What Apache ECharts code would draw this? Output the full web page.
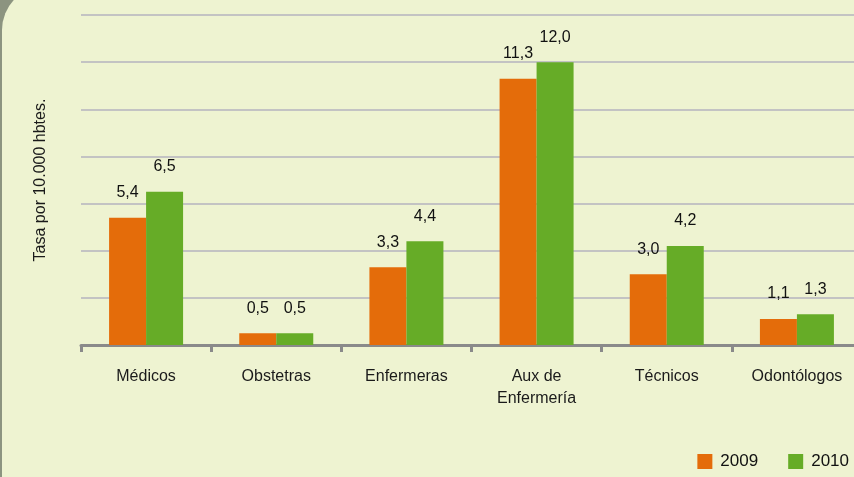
<!DOCTYPE html>
<html>
<head>
<meta charset="utf-8">
<script src="https://cdn.jsdelivr.net/npm/echarts@6/dist/echarts.min.js"></script>
<style>
  html, body { margin: 0; padding: 0; background: #8c9480; overflow: hidden; width: 854px; height: 477px; }
  #panel {
    position: absolute; left: 2px; top: -14px; width: 900px; height: 520px;
    background: #eef3d1; border-top-left-radius: 44px;
  }
  #chart { position: absolute; left: 0; top: 0; width: 880px; height: 477px; }
</style>
</head>
<body>
<div id="panel"></div>
<div id="chart"></div>
<script>
// categorías y tasas por 10.000 habitantes
const categories = ['Médicos', 'Obstetras', 'Enfermeras', 'Aux de\nEnfermería', 'Técnicos', 'Odontólogos'];
const values2009 = [5.4, 0.5, 3.3, 11.3, 3.0, 1.1];
const values2010 = [6.5, 0.5, 4.4, 12.0, 4.2, 1.3];
const seriesNames = ['2009', '2010'];

const font = "'Liberation Sans', Arial, sans-serif";
const fmt = p => p.value.toFixed(1).replace('.', ',');

// el div es más ancho que la ventana para que la última categoría quede cortada como en el original
const chart = echarts.init(document.getElementById('chart'));
chart.setOption({
  backgroundColor: 'transparent',
  textStyle: { fontFamily: font },
  grid: { left: 81, top: 15, width: 781, height: 330 },
  legend: {
    data: seriesNames,
    right: 26,
    bottom: 2,
    itemWidth: 15,
    itemHeight: 15,
    itemGap: 30,
    icon: 'rect',
    textStyle: { fontFamily: font, fontSize: 17, color: '#111', padding: [0, 0, 0, 3] }
  },
  xAxis: {
    type: 'category',
    data: categories,
    axisLine: { lineStyle: { color: '#8a8a8a', width: 3 } },
    axisTick: { show: true, length: 7, lineStyle: { color: '#8a8a8a', width: 3 } },
    axisLabel: { fontFamily: font, fontSize: 16, color: '#1a1a1a', margin: 21, lineHeight: 22 }
  },
  yAxis: {
    type: 'value',
    min: 0,
    max: 14,
    interval: 2,
    name: 'Tasa por 10.000 hbtes.',
    nameLocation: 'middle',
    nameGap: 32,
    nameTextStyle: { fontFamily: font, fontSize: 16, color: '#1a1a1a' },
    axisLine: { show: false },
    axisTick: { show: false },
    axisLabel: { show: false },
    splitLine: { lineStyle: { color: '#c3c3c3', width: 2 } }
  },
  series: [
    {
      name: seriesNames[0],
      type: 'bar',
      data: values2009,
      barWidth: 37,
      barGap: '0%',
      itemStyle: { color: '#e46c0a' },
      label: { show: true, position: 'top', distance: 17, formatter: fmt,
               fontFamily: font, fontSize: 16, color: '#111' }
    },
    {
      name: seriesNames[1],
      type: 'bar',
      data: values2010,
      barWidth: 37,
      itemStyle: { color: '#66ac27' },
      label: { show: true, position: 'top', distance: 17, formatter: fmt,
               fontFamily: font, fontSize: 16, color: '#111' }
    }
  ]
});
</script>
</body>
</html>
